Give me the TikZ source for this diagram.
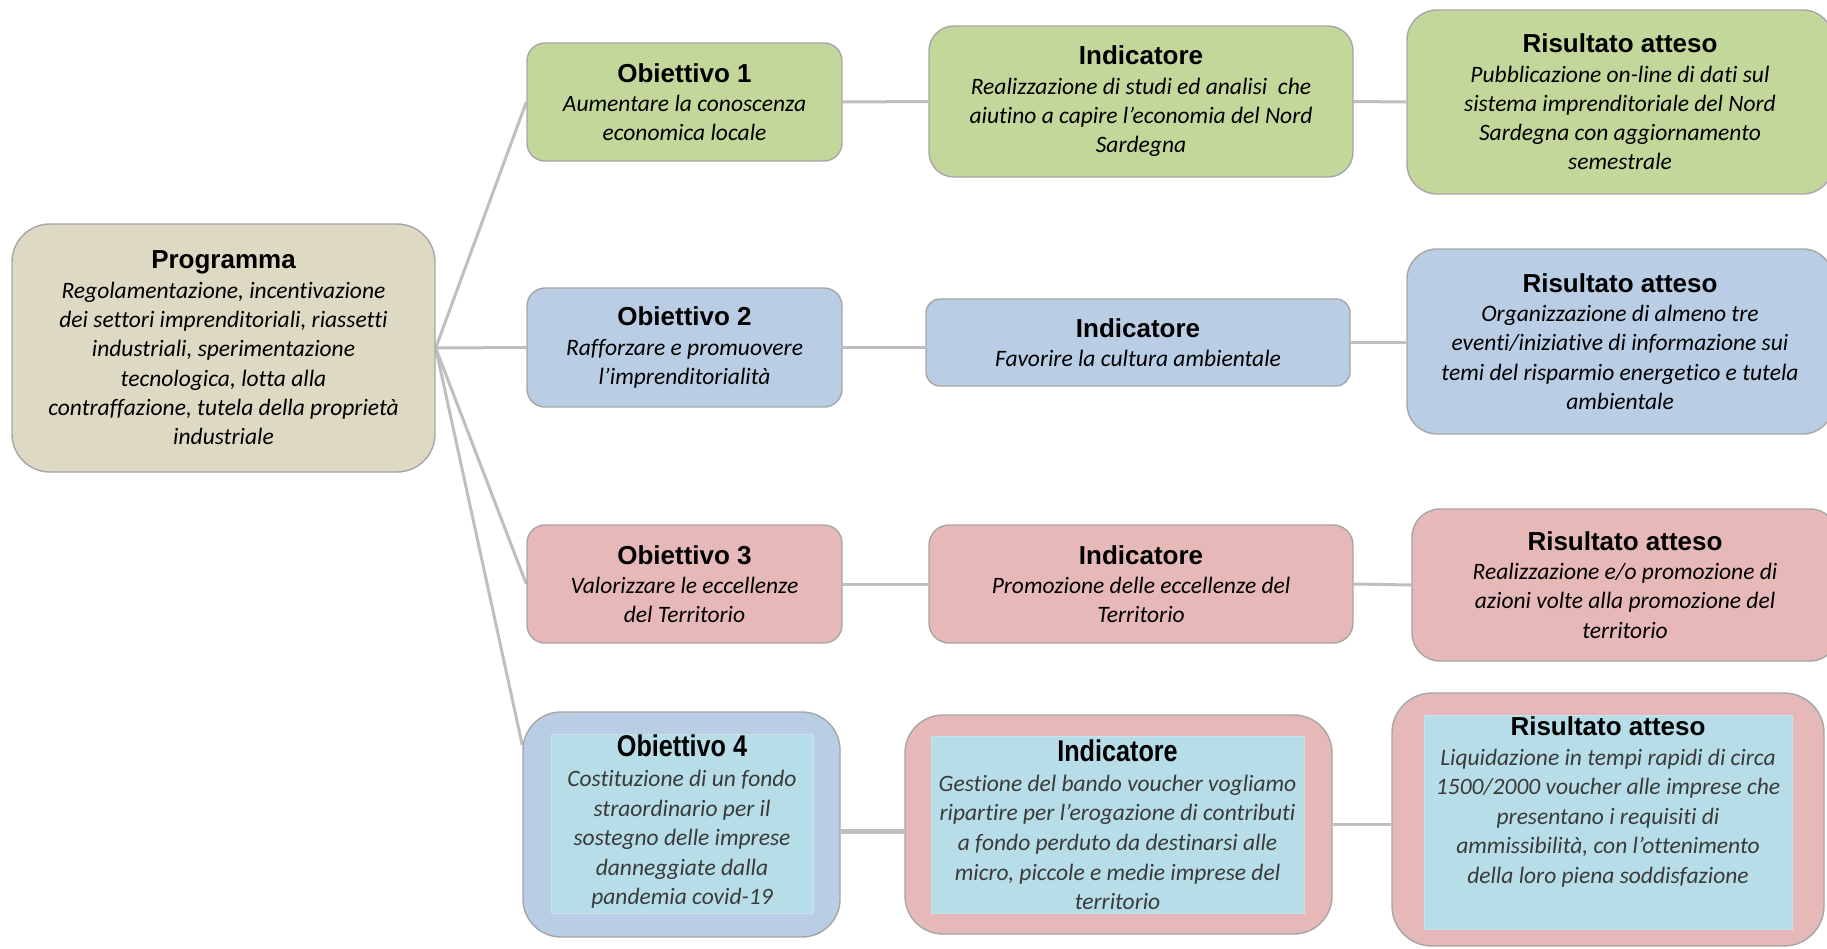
\documentclass[tikz,border=0pt]{standalone}
\usepackage{fontspec}
\setmainfont{Carlito}[Ligatures=NoCommon]
\newfontfamily\titlefont{Liberation Sans}
\newfontfamily\narrowtitle[FakeStretch=0.84]{Liberation Sans}
\usetikzlibrary{calc,backgrounds}
\definecolor{boxline}{HTML}{A6A6A6}
\definecolor{conn}{HTML}{BFBFBF}
\definecolor{tanfill}{HTML}{DDD9C3}
\definecolor{greenfill}{HTML}{C4D79B}
\definecolor{bluefill}{HTML}{B9CDE5}
\definecolor{redfill}{HTML}{E6B9B8}
\definecolor{aquafill}{HTML}{B7DEE8}
\definecolor{graytext}{HTML}{3A3A3A}
\newcommand{\ttl}[1]{{\color{black}\titlefont\bfseries\upshape\fontsize{26}{29.3}\selectfont #1}}
\newcommand{\nttl}[1]{{\color{black}\narrowtitle\bfseries\upshape\fontsize{30}{29.3}\selectfont #1}}
\begin{document}
\begin{tikzpicture}[x=1pt,y=-1pt,
  box/.style={draw=boxline, line width=1.4pt, rounded corners=#1, inner sep=0pt,
    align=center, font=\fontsize{23.5}{29.3}\selectfont\itshape},
  box/.default=20,
  inbox/.style={fill=aquafill, draw=aquafill!80!white, line width=0.6pt, inner sep=0pt},
  txt4/.style={align=center, inner sep=0pt, text=graytext, font=\fontsize{23.5}{29.6}\selectfont\itshape},
  link/.style={draw=conn, line width=3pt},
  link4/.style={draw=conn, line width=5pt}]
\clip (0,0) rectangle (1827,948);

% Programma
\node[box=38, fill=tanfill, minimum width=423, minimum height=248] (prog) at (223.5,348)
  {\ttl{Programma}\\Regolamentazione, incentivazione\\dei settori imprenditoriali, riassetti\\industriali, sperimentazione\\tecnologica, lotta alla\\contraffazione, tutela della proprietà\\industriale};

% Row 1
\node[box=18, fill=greenfill, minimum width=315, minimum height=118] (obj1) at (684.5,102)
  {\ttl{Obiettivo 1}\\Aumentare la conoscenza\\economica locale};
\node[box=25, fill=greenfill, minimum width=424, minimum height=151] (ind1) at (1141,101.5)
  {\ttl{Indicatore}\\Realizzazione di studi ed analisi\ \ che\\aiutino a capire l’economia del Nord\\Sardegna};
\node[box=30, fill=greenfill, minimum width=426, minimum height=184] (ris1) at (1620,102)
  {\ttl{Risultato atteso}\\Pubblicazione on-line di dati sul\\sistema imprenditoriale del Nord\\Sardegna con aggiornamento\\semestrale};

% Row 2
\node[box=18, fill=bluefill, minimum width=315, minimum height=119] (obj2) at (684.5,347.5)
  {\ttl{Obiettivo 2}\\Rafforzare e promuovere\\l’imprenditorialità};
\node[box=14, fill=bluefill, minimum width=424, minimum height=87] (ind2) at (1138,342.5)
  {\ttl{Indicatore}\\Favorire la cultura ambientale};
\node[box=30, fill=bluefill, minimum width=426, minimum height=185] (ris2) at (1620,341.5)
  {\ttl{Risultato atteso}\\Organizzazione di almeno tre\\eventi/iniziative di informazione sui\\temi del risparmio energetico e tutela\\ambientale};

% Row 3
\node[box=18, fill=redfill, minimum width=315, minimum height=118] (obj3) at (684.5,584)
  {\ttl{Obiettivo 3}\\Valorizzare le eccellenze\\del Territorio};
\node[box=20, fill=redfill, minimum width=424, minimum height=118] (ind3) at (1141,584)
  {\ttl{Indicatore}\\Promozione delle eccellenze del\\Territorio};
\node[box=28, fill=redfill, minimum width=426, minimum height=152] (ris3) at (1625,585)
  {\ttl{Risultato atteso}\\Realizzazione e/o promozione di\\azioni volte alla promozione del\\territorio};

% Row 4
\node[box=38, fill=bluefill, minimum width=317, minimum height=225] (obj4) at (681.5,824.5) {};
\node[inbox, minimum width=262, minimum height=179] (obj4in) at (682,823.5) {};
\node[txt4] (obj4t) at (682,822)
  {\nttl{Obiettivo 4}\\Costituzione di un fondo\\straordinario per il\\sostegno delle imprese\\danneggiate dalla\\pandemia covid-19};

\node[box=38, fill=redfill, minimum width=427, minimum height=219] (ind4) at (1118.5,824.5) {};
\node[inbox, minimum width=373, minimum height=177] (ind4in) at (1117.5,824.5) {};
\node[txt4] (ind4t) at (1117.5,825)
  {\nttl{Indicatore}\\Gestione del bando voucher vogliamo\\ripartire per l’erogazione di contributi\\a fondo perduto da destinarsi alle\\micro, piccole e medie imprese del\\territorio};

\node[box=40, fill=redfill, minimum width=432, minimum height=253] (ris4) at (1608,819.5) {};
\node[inbox, minimum width=368, minimum height=214] (ris4in) at (1608,822) {};
\node[txt4] (ris4t) at (1608,802)
  {\ttl{Risultato atteso}\\Liquidazione in tempi rapidi di circa\\1500/2000 voucher alle imprese che\\presentano i requisiti di\\ammissibilità, con l’ottenimento\\della loro piena soddisfazione};

% Connectors
\begin{scope}[on background layer]
\fill[white] (0,0) rectangle (1827,948);
\draw[link] (prog.east) -- (obj1.west);
\draw[link] (prog.east) -- (obj2.west);
\draw[link] (prog.east) -- (obj3.west);
\draw[link] (prog.east) -- ($(obj4.north west)!0.15!(obj4.south west)$);
\draw[link] (obj1.east) -- (ind1.west);
\draw[link] (ind1.east) -- (ris1.west);
\draw[link] (obj2.east) -- (obj2.east -| ind2.west);
\draw[link] (ind2.east) -- (ind2.east -| ris2.west);
\draw[link] (obj3.east) -- (ind3.west);
\draw[link] (ind3.east) -- (ris3.west);
\draw[link4] ($(obj4.east)+(0,7)$) -- ($(ind4.west)+(0,7)$);
\draw[link] (ind4.east) -- (ind4.east -| ris4.west);
\end{scope}
\end{tikzpicture}
\end{document}
